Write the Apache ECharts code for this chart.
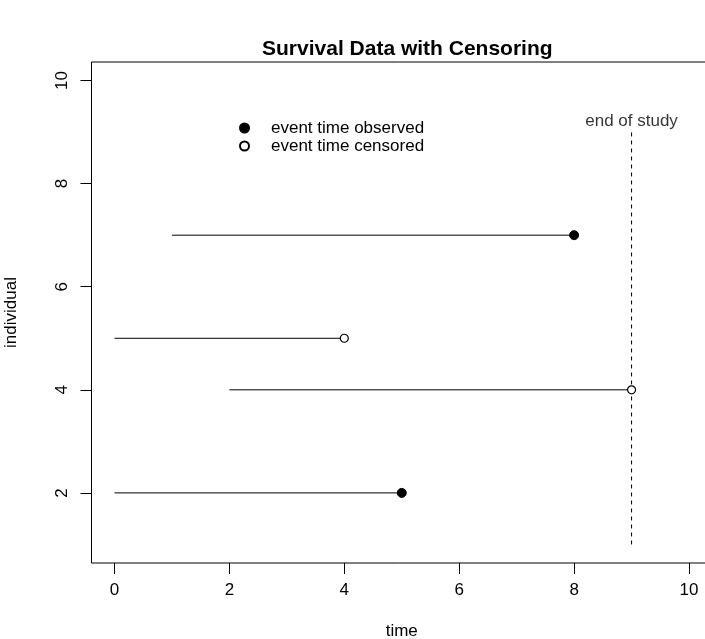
<!DOCTYPE html>
<html>
<head>
<meta charset="utf-8">
<title>Survival Data with Censoring</title>
<script src="https://cdn.jsdelivr.net/npm/echarts@6/dist/echarts.min.js"></script>
<style>
  html, body { margin: 0; padding: 0; background: #fff; }
  #chart { width: 705px; height: 639px; }
</style>
</head>
<body>
<div id="chart"></div>
<script>
// Follow-up of each individual: start time, end time, and whether the event was seen
const individuals = [2, 4, 5, 7];
const startTimes  = [0, 2, 0, 1];
const endTimes    = [5, 9, 4, 8];
const eventSeen   = [true, false, false, true];

// End-of-study marker
const studyEnd = 9;
const studyLineFrom = 1;
const studyLineTo = 9;
const studyLabelAt = 9.2;

// Axis ticks
const xTicks = [0, 2, 4, 6, 8, 10];
const yTicks = [2, 4, 6, 8, 10];

const FONT = '"Liberation Sans", Arial, Helvetica, sans-serif';
const BASE = 17;

const segmentSeries = individuals.map((id, i) => ({
  type: 'line',
  name: 'follow-up ' + id,
  data: [[startTimes[i], id], [endTimes[i], id]],
  symbol: 'none',
  silent: true,
  lineStyle: { color: '#000', width: 1 },
  z: 2
}));

const observedPts = [];
const censoredPts = [];
individuals.forEach((id, i) => {
  (eventSeen[i] ? observedPts : censoredPts).push([endTimes[i], id]);
});

const option = {
  animation: false,
  backgroundColor: '#fff',
  textStyle: { fontFamily: FONT },
  title: {
    text: 'Survival Data with Censoring',
    left: 257,
    top: 34,
    textStyle: { fontFamily: FONT, fontSize: 21, fontWeight: 'bold', color: '#000' }
  },
  legend: {
    orient: 'vertical',
    left: 234,
    top: 114,
    itemWidth: 9,
    itemHeight: 9,
    itemGap: 0,
    data: ['event time observed', 'event time censored'],
    textStyle: {
      fontFamily: FONT, fontSize: BASE, color: '#000',
      lineHeight: 18, padding: [0, 0, 0, 17]
    }
  },
  grid: {
    left: 91.5, top: 62, right: -7, bottom: 76,
    containLabel: false,
    outerBoundsMode: 'none',
    show: true, borderColor: '#000', borderWidth: 1
  },
  xAxis: {
    type: 'value',
    min: -0.4, max: 10.4,
    name: 'time',
    nameLocation: 'middle',
    nameGap: 60,
    nameTextStyle: { fontFamily: FONT, fontSize: BASE, color: '#000' },
    axisLine: { show: false, onZero: false },
    splitLine: { show: false },
    axisTick: { show: true, length: 11, customValues: xTicks, lineStyle: { color: '#000' } },
    axisLabel: { customValues: xTicks, margin: 19, fontFamily: FONT, fontSize: BASE, color: '#000' }
  },
  yAxis: {
    type: 'value',
    min: 0.64, max: 10.36,
    name: 'individual',
    nameLocation: 'middle',
    nameRotate: 90,
    nameGap: 72,
    nameTextStyle: { fontFamily: FONT, fontSize: BASE, color: '#000' },
    axisLine: { show: false, onZero: false },
    splitLine: { show: false },
    axisTick: { show: true, length: 11, customValues: yTicks, lineStyle: { color: '#000' } },
    axisLabel: { customValues: yTicks, rotate: 90, margin: 21, fontFamily: FONT, fontSize: BASE, color: '#000' }
  },
  series: [
    ...segmentSeries,
    {
      type: 'line',
      name: 'end of study',
      data: [[studyEnd, studyLineFrom], [studyEnd, studyLineTo]],
      symbol: 'none',
      silent: true,
      lineStyle: { color: '#000', width: 1, type: [4, 4] },
      z: 1
    },
    {
      type: 'scatter',
      name: 'study label',
      data: [[studyEnd, studyLabelAt]],
      symbolSize: 0,
      silent: true,
      label: {
        show: true, position: 'inside', formatter: 'end of study',
        fontFamily: FONT, fontSize: BASE, color: '#000'
      }
    },
    {
      type: 'scatter',
      name: 'event time observed',
      data: observedPts,
      symbol: 'circle',
      symbolSize: 9,
      itemStyle: { color: '#000', borderColor: '#000', borderWidth: 1, opacity: 1 },
      z: 5
    },
    {
      type: 'scatter',
      name: 'event time censored',
      data: censoredPts,
      symbol: 'circle',
      symbolSize: 8,
      itemStyle: { color: '#fff', borderColor: '#000', borderWidth: 1.2, opacity: 1 },
      z: 5
    }
  ]
};

const chart = echarts.init(document.getElementById('chart'), null, { renderer: 'canvas' });
chart.setOption(option);
</script>
</body>
</html>
